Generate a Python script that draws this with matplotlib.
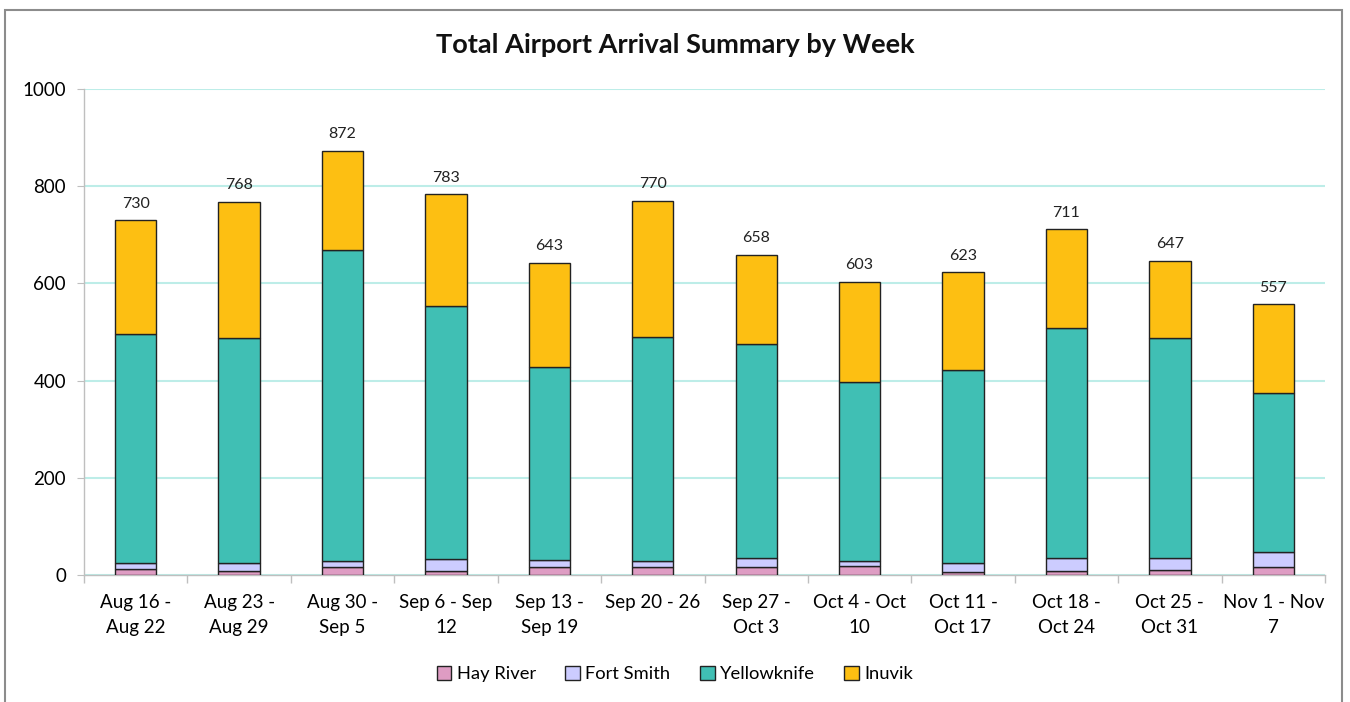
import matplotlib
matplotlib.use("Agg")
import matplotlib.pyplot as plt
import numpy as np
from matplotlib.patches import Rectangle

plt.rcParams['font.family'] = ['Lato', 'DejaVu Sans']

weeks = ["Aug 16 -\nAug 22", "Aug 23 -\nAug 29", "Aug 30 -\nSep 5", "Sep 6 - Sep\n12",
         "Sep 13 -\nSep 19", "Sep 20 - 26", "Sep 27 -\nOct 3", "Oct 4 - Oct\n10",
         "Oct 11 -\nOct 17", "Oct 18 -\nOct 24", "Oct 25 -\nOct 31", "Nov 1 - Nov\n7"]
hay_river = [13, 8, 17, 8, 17, 17, 17, 19, 6, 9, 10, 17]
fort_smith = [11, 17, 11, 24, 13, 11, 17, 10, 19, 25, 24, 30]
yellowknife = [471, 462, 641, 522, 399, 462, 442, 368, 397, 474, 454, 327]
inuvik = [235, 281, 203, 229, 214, 280, 182, 206, 201, 203, 159, 183]
totals = [730, 768, 872, 783, 643, 770, 658, 603, 623, 711, 647, 557]

series = [("Hay River", hay_river, "#DE9CC3"),
          ("Fort Smith", fort_smith, "#CCCCFF"),
          ("Yellowknife", yellowknife, "#40BFB4"),
          ("Inuvik", inuvik, "#FDBF12")]

fig = plt.figure(figsize=(13.5, 7.02), dpi=100)
ax = fig.add_axes([84/1350, 1-575/702, (1325-84)/1350, (575-89)/702])

# outer chart border
fig.patches.append(Rectangle((5/1350, -0.05), 1337/1350, 1.05-10/702, transform=fig.transFigure,
                             fill=False, edgecolor="#8c8c8c", linewidth=1.5))

x = np.arange(len(weeks))
bottom = np.zeros(len(weeks))
handles = []
for name, vals, col in series:
    b = ax.bar(x, vals, 0.4, bottom=bottom, color=col, edgecolor="#222222", linewidth=1, label=name, zorder=3)
    handles.append(b)
    bottom += np.array(vals)

for xi, t in zip(x, totals):
    ax.text(xi, t + 20, str(t), ha="center", va="bottom", fontsize=11.5, color="#222222")

ax.set_xlim(-0.5, len(weeks) - 0.5)
ax.set_ylim(0, 1000)
ax.set_yticks([0, 200, 400, 600, 800, 1000])
ax.yaxis.grid(True, color="#BDEDE8", linewidth=1.5, zorder=0)
ax.set_axisbelow(True)
ax.set_xticks(x)
ax.set_xticklabels(weeks, fontsize=13.5, linespacing=1.55)
ax.set_xticks(np.arange(-0.5, len(weeks), 1), minor=True)
ax.tick_params(axis="x", which="major", length=0, pad=14)
ax.tick_params(axis="x", which="minor", length=6, color="#bfbfbf", width=1)
ax.tick_params(axis="y", length=5, color="#bfbfbf", labelsize=13.5, pad=8)
for s in ["top", "right"]:
    ax.spines[s].set_visible(False)
ax.spines["left"].set_color("#bfbfbf")
ax.spines["bottom"].set_color("#bfbfbf")
ax.spines["left"].set_linewidth(1)
ax.spines["bottom"].set_linewidth(1)

fig.text(0.5, 1-45/702, "Total Airport Arrival Summary by Week", ha="center", va="center",
         fontsize=19.5, fontweight="bold", color="#111111")

fig.legend(handles=handles, loc="center", bbox_to_anchor=(0.5, 1-674/702), ncol=4, frameon=False,
           fontsize=13.2, handlelength=0.8, handleheight=0.8, handletextpad=0.3, columnspacing=1.6)

fig.savefig("out.png", dpi=100)
